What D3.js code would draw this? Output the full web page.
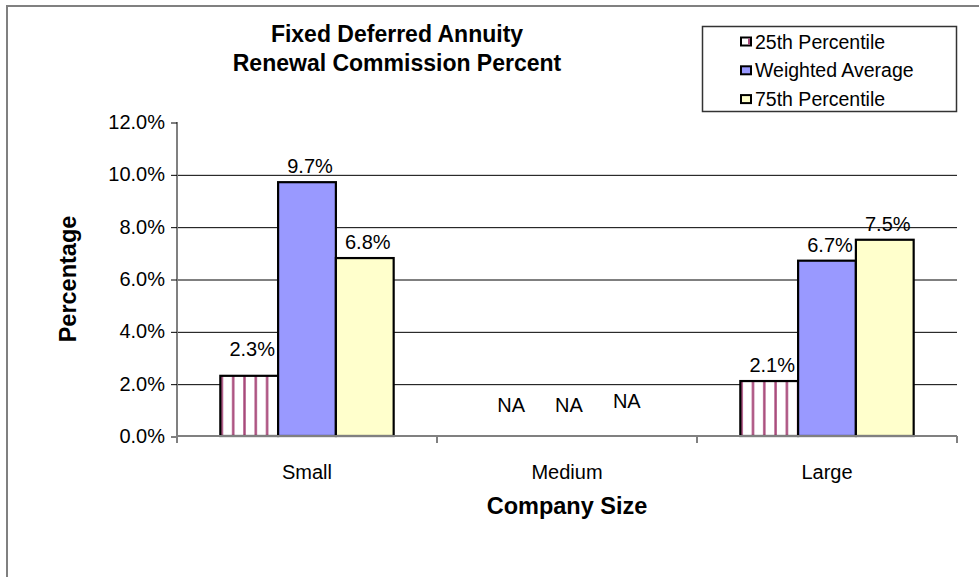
<!DOCTYPE html>
<html>
<head>
<meta charset="utf-8">
<script src="https://cdn.jsdelivr.net/npm/d3@7"></script>
<style>
  html, body { margin: 0; padding: 0; background: #fff; }
  svg { display: block; font-family: Arial, "Liberation Sans", sans-serif; }
</style>
</head>
<body>
<svg id="chart" width="979" height="577"></svg>
<script>
// ---- data ----
const categories = ["Small", "Medium", "Large"];
const seriesNames = ["25th Percentile", "Weighted Average", "75th Percentile"];
const p25 = [2.3, null, 2.1];
const weightedAvg = [9.7, null, 6.7];
const p75 = [6.8, null, 7.5];
const yTicks = [0, 2, 4, 6, 8, 10, 12];
const titleLines = ["Fixed Deferred Annuity", "Renewal Commission Percent"];
const xTitle = "Company Size";
const yTitle = "Percentage";

// ---- layout ----
const W = 979, H = 577;
const plot = { left: 177, right: 957, top: 122, bottom: 436 };
const fills = ["url(#stripes)", "#9999FF", "#FFFFCC"];

const svg = d3.select("#chart");
const defs = svg.append("defs");
const pat = defs.append("pattern")
  .attr("id", "stripes").attr("patternUnits", "userSpaceOnUse")
  .attr("x", 2).attr("y", 0).attr("width", 11.3).attr("height", 10);
pat.append("rect").attr("width", 11.3).attr("height", 10).attr("fill", "#fff");
pat.append("rect").attr("x", 4).attr("width", 2.4).attr("height", 10).attr("fill", "#A8497A");

// outer border (top & left visible)
svg.append("line").attr("x1", 7).attr("x2", W).attr("y1", 6).attr("y2", 6)
  .attr("stroke", "#808080").attr("stroke-width", 2);
svg.append("line").attr("x1", 7).attr("x2", 7).attr("y1", 5).attr("y2", H)
  .attr("stroke", "#808080").attr("stroke-width", 2);

// scales
const x = d3.scaleBand().domain(categories).range([plot.left, plot.right]).paddingInner(0).paddingOuter(0);
const bw = x.bandwidth();
const x1 = d3.scaleBand().domain(seriesNames).range([bw * 0.75 / 4.5, bw * 3.75 / 4.5]).padding(0);
const y = d3.scaleLinear().domain([0, 12]).range([plot.bottom, plot.top]);

// gridlines
const grid = svg.append("g").attr("transform", `translate(${plot.left},0)`)
  .call(d3.axisLeft(y).tickValues(yTicks.filter(t => t > 0 && t < 12))
    .tickSize(-(plot.right - plot.left)).tickFormat(""));
grid.select(".domain").remove();
grid.selectAll(".tick line").attr("stroke", "#000").attr("stroke-width", 1)
  .attr("transform", "translate(0,0.5)");

// bars
const seriesData = [p25, weightedAvg, p75];
const rows = [];
categories.forEach((c, i) => {
  seriesNames.forEach((s, j) => rows.push({ cat: c, ser: s, j, v: seriesData[j][i] }));
});

const barG = svg.append("g");
barG.selectAll("rect").data(rows.filter(d => d.v != null)).join("rect")
  .attr("x", d => x(d.cat) + x1(d.ser))
  .attr("y", d => y(d.v))
  .attr("width", x1.bandwidth())
  .attr("height", d => y(0) - y(d.v))
  .attr("fill", d => fills[d.j])
  .attr("stroke", "#000").attr("stroke-width", 2.2);

// value labels
svg.append("g").selectAll("text").data(rows).join("text")
  .attr("x", d => x(d.cat) + x1(d.ser) + x1.bandwidth() / 2 + (d.v == null ? 2 : 3))
  .attr("y", d => d.v == null ? y(0) - (d.j === 2 ? 28 : 24) : y(d.v) - (d.j === 0 && d.cat === "Small" ? 20 : 9))
  .attr("text-anchor", "middle")
  .attr("font-size", 20)
  .attr("fill", "#000")
  .text(d => d.v == null ? "NA" : d.v.toFixed(1) + "%");

// y axis
const yAxis = svg.append("g").attr("transform", `translate(${plot.left},0)`)
  .call(d3.axisLeft(y).tickValues(yTicks).tickSize(6).tickPadding(6)
    .tickFormat(d => d.toFixed(1) + "%"));
yAxis.select(".domain").attr("stroke", "#808080").attr("stroke-width", 2)
  .attr("d", `M0,${plot.top}V${plot.bottom + 1}`);
yAxis.selectAll(".tick line").attr("stroke", "#000").attr("stroke-width", 1)
  .attr("transform", "translate(0,0.5)");
yAxis.selectAll(".tick text").attr("font-size", 20).attr("fill", "#000")
  .attr("font-family", "Arial, 'Liberation Sans', sans-serif");

// x axis
const xAxis = svg.append("g").attr("transform", `translate(0,${plot.bottom})`);
xAxis.append("line").attr("x1", plot.left).attr("x2", plot.right).attr("y1", 0).attr("y2", 0)
  .attr("stroke", "#808080").attr("stroke-width", 2);
const boundaries = categories.map(c => x(c)).concat([plot.right]);
xAxis.selectAll("line.tk").data(boundaries).join("line").attr("class", "tk")
  .attr("x1", d => d).attr("x2", d => d).attr("y1", 0).attr("y2", 7)
  .attr("stroke", "#808080").attr("stroke-width", 2);
xAxis.selectAll("text").data(categories).join("text")
  .attr("x", d => x(d) + bw / 2).attr("y", 43)
  .attr("text-anchor", "middle").attr("font-size", 20).attr("fill", "#000")
  .text(d => d);

// titles
svg.append("g").selectAll("text").data(titleLines).join("text")
  .attr("x", 397).attr("y", (d, i) => 42 + i * 29)
  .attr("text-anchor", "middle").attr("font-size", 23).attr("font-weight", "bold")
  .text(d => d);
svg.append("text").attr("x", 567).attr("y", 514).attr("text-anchor", "middle")
  .attr("font-size", 23.5).attr("font-weight", "bold").text(xTitle);
svg.append("text").attr("transform", `translate(76,${(plot.top + plot.bottom) / 2}) rotate(-90)`)
  .attr("text-anchor", "middle").attr("font-size", 23.5).attr("font-weight", "bold").text(yTitle);

// legend
const lg = svg.append("g");
lg.append("rect").attr("x", 702.5).attr("y", 26.5).attr("width", 254).attr("height", 85)
  .attr("fill", "#fff").attr("stroke", "#333").attr("stroke-width", 1.5);
const items = lg.selectAll("g.item").data(seriesNames).join("g").attr("class", "item")
  .attr("transform", (d, i) => `translate(0,${i * 28.8})`);
items.append("rect").attr("x", 741).attr("y", 37.5).attr("width", 10).attr("height", 8)
  .attr("fill", (d, i) => i === 0 ? "#fff" : fills[i]).attr("stroke", "#000").attr("stroke-width", 2);
items.filter((d, i) => i === 0).append("rect").attr("x", 748).attr("y", 38.5).attr("width", 2).attr("height", 6)
  .attr("fill", "#A8497A");
items.append("text").attr("x", 755).attr("y", 48.5).attr("font-size", 19.5).attr("fill", "#000")
  .text(d => d);
</script>
</body>
</html>
